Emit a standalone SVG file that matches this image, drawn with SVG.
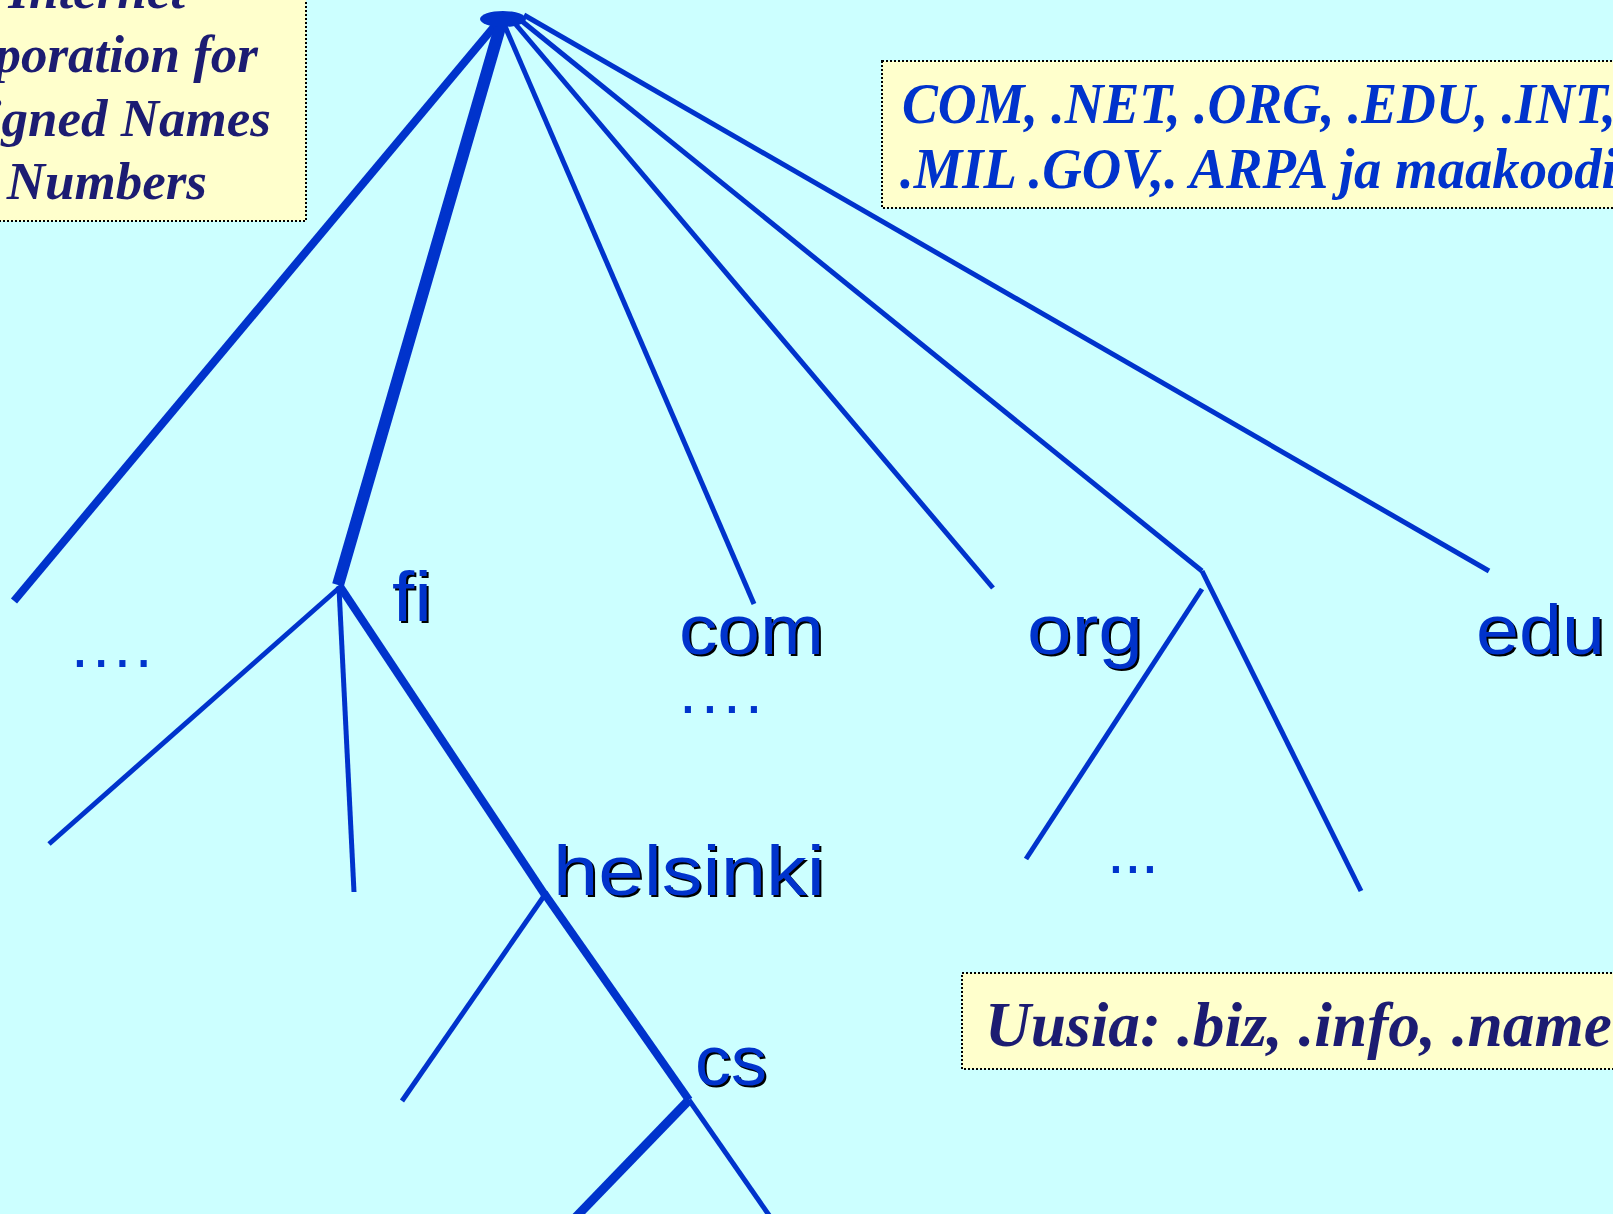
<svg xmlns="http://www.w3.org/2000/svg" width="1613" height="1214" viewBox="0 0 1613 1214">
<style>
.bg{fill:#CCFFFF}
.box{fill:#FFFFCC;stroke:#000;stroke-width:2;stroke-dasharray:2 2}
.note{font-family:"Liberation Serif","Times New Roman",serif;font-weight:bold;font-style:italic}
.navy{fill:#1C1C72}
.blue{fill:#0033CC}
.lbl{font-family:"Liberation Sans",Arial,sans-serif;font-size:71px}
.sh{fill:#000}
.fg{fill:#0033CC}
.dots{font-family:"Liberation Sans",Arial,sans-serif;fill:#0033CC;font-size:64px}
.e{stroke:#0033CC;fill:none;stroke-linecap:butt}
</style>
<rect class="bg" x="0" y="0" width="1613" height="1214"/>

<g id="icann-note">
<rect class="box" x="-20" y="-20" width="326" height="241"/>
<text class="note navy" font-size="53" text-anchor="end"><tspan x="185" y="8">Internet</tspan><tspan x="258" y="72">Corporation for</tspan><tspan x="271" y="136">Assigned Names</tspan><tspan x="207" y="199">and Numbers</tspan></text>
</g>

<g id="tld-note">
<rect class="box" x="882" y="61" width="760" height="147"/>
<text class="note blue" font-size="58"><tspan x="902" y="123" textLength="714" lengthAdjust="spacingAndGlyphs">COM, .NET, .ORG, .EDU, .INT,</tspan><tspan x="900" y="188" textLength="732" lengthAdjust="spacingAndGlyphs">.MIL .GOV,. ARPA ja maakoodit</tspan></text>
</g>

<g id="new-note">
<rect class="box" x="962" y="973" width="680" height="96"/>
<text class="note navy" font-size="63" x="985" y="1046" textLength="627" lengthAdjust="spacingAndGlyphs">Uusia: .biz, .info, .name</text>
</g>

<g id="connectors">
<line class="e" stroke-width="8" x1="498" y1="22" x2="14" y2="601"/>
<line class="e" stroke-width="12" x1="501" y1="24" x2="338" y2="585"/>
<line class="e" stroke-width="5" x1="504" y1="24" x2="754" y2="604"/>
<line class="e" stroke-width="5" x1="512" y1="20" x2="993" y2="588"/>
<line class="e" stroke-width="5" x1="518" y1="18" x2="1202" y2="571"/>
<line class="e" stroke-width="5" x1="524" y1="15" x2="1489" y2="571"/>
<line class="e" stroke-width="5" x1="339" y1="588" x2="49" y2="844"/>
<line class="e" stroke-width="5" x1="339" y1="588" x2="354" y2="892"/>
<line class="e" stroke-width="8" x1="339" y1="585" x2="545" y2="895"/>
<line class="e" stroke-width="5" x1="544" y1="896" x2="402" y2="1101"/>
<line class="e" stroke-width="8" x1="544" y1="893" x2="689" y2="1100"/>
<line class="e" stroke-width="9" x1="689" y1="1100" x2="575" y2="1218"/>
<line class="e" stroke-width="5" x1="689" y1="1100" x2="771" y2="1218"/>
<line class="e" stroke-width="5" x1="1202" y1="571" x2="1361" y2="891"/>
<line class="e" stroke-width="5" x1="1202" y1="589" x2="1026" y2="859"/>
</g>

<g id="root"><ellipse cx="503" cy="19" rx="23" ry="8" fill="#0033CC"/></g>

<g id="node-fi" class="lbl"><text class="sh" x="394" y="623" textLength="40" lengthAdjust="spacingAndGlyphs">fi</text><text class="fg" x="392" y="621" textLength="40" lengthAdjust="spacingAndGlyphs">fi</text></g>
<g id="node-com" class="lbl"><text class="sh" x="681" y="656" textLength="145" lengthAdjust="spacingAndGlyphs">com</text><text class="fg" x="679" y="654" textLength="145" lengthAdjust="spacingAndGlyphs">com</text></g>
<g id="node-org" class="lbl"><text class="sh" x="1029" y="656" textLength="116" lengthAdjust="spacingAndGlyphs">org</text><text class="fg" x="1027" y="654" textLength="116" lengthAdjust="spacingAndGlyphs">org</text></g>
<g id="node-edu" class="lbl"><text class="sh" x="1478" y="656" textLength="129" lengthAdjust="spacingAndGlyphs">edu</text><text class="fg" x="1476" y="654" textLength="129" lengthAdjust="spacingAndGlyphs">edu</text></g>
<g id="node-helsinki" class="lbl"><text class="sh" x="555" y="897" textLength="272" lengthAdjust="spacingAndGlyphs">helsinki</text><text class="fg" x="553" y="895" textLength="272" lengthAdjust="spacingAndGlyphs">helsinki</text></g>
<g id="node-cs" class="lbl"><text class="sh" x="697" y="1087" textLength="72" lengthAdjust="spacingAndGlyphs">cs</text><text class="fg" x="695" y="1085" textLength="72" lengthAdjust="spacingAndGlyphs">cs</text></g>

<g id="more-left"><text class="dots" x="71" y="667" letter-spacing="3.5">....</text></g>
<g id="more-com"><text class="dots" x="679" y="713" letter-spacing="4.2">....</text></g>
<g id="more-org"><text class="dots" x="1107" y="873" letter-spacing="-0.8">...</text></g>
</svg>
